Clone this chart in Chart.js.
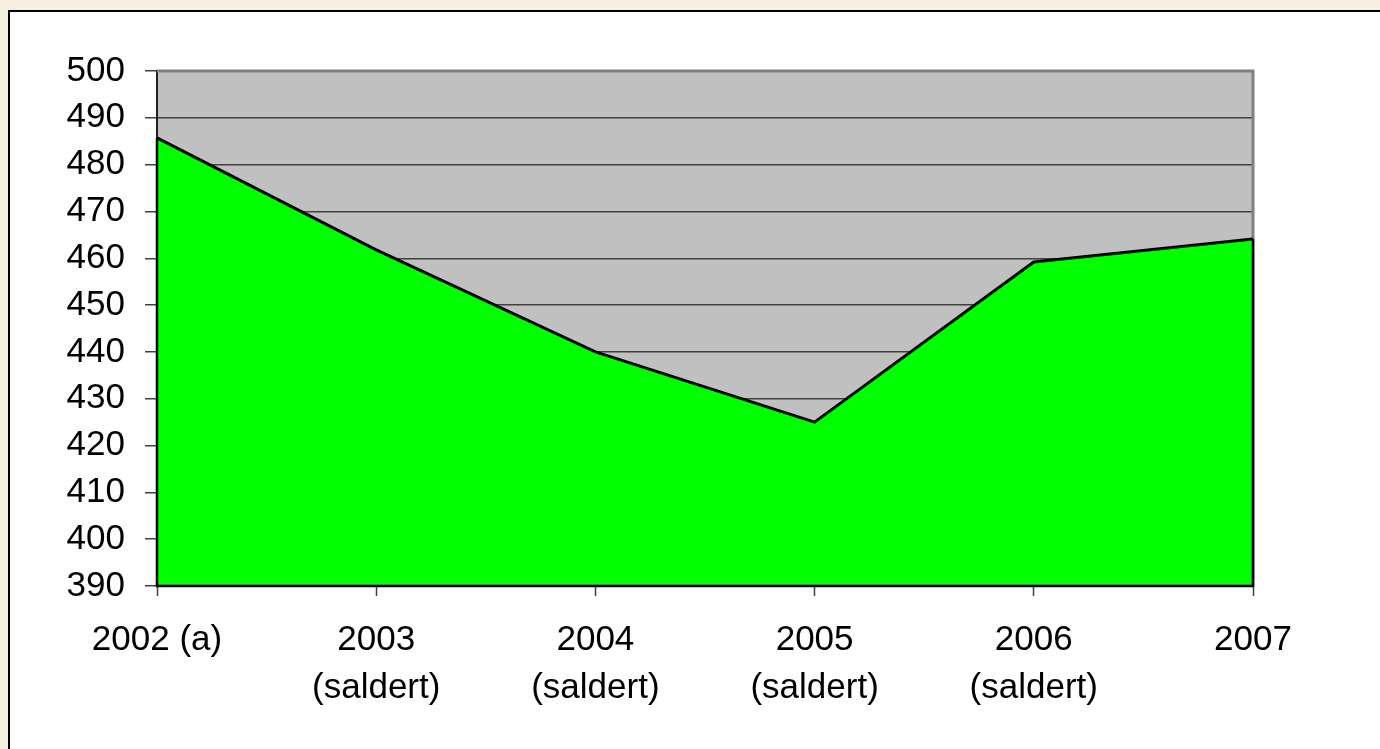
<!DOCTYPE html>
<html>
<head>
<meta charset="utf-8">
<script src="https://cdn.jsdelivr.net/npm/chart.js@4/dist/chart.umd.min.js"></script>
<style>
html,body{margin:0;padding:0;background:#F7F0E1;}
#wrap{position:absolute;left:0;top:0;width:1380px;height:749px;}
</style>
</head>
<body>
<div id="wrap"><canvas id="c" width="1380" height="749"></canvas></div>
<script>
const categories = [['2002 (a)'], ['2003', '(saldert)'], ['2004', '(saldert)'], ['2005', '(saldert)'], ['2006', '(saldert)'], ['2007']];
const values = [485.7, 461.8, 440.0, 425.0, 459.2, 464.1];
const yMin = 390, yMax = 500, yStep = 10;

const panelPlugin = {
  id: 'panel',
  beforeDraw(chart) {
    const ctx = chart.ctx;
    ctx.save();
    ctx.fillStyle = '#F7F0E1';
    ctx.fillRect(0, 0, chart.width, chart.height);
    ctx.fillStyle = '#FFFFFF';
    ctx.fillRect(8, 10, chart.width - 8, chart.height - 10);
    ctx.strokeStyle = '#000000';
    ctx.lineWidth = 2;
    ctx.beginPath();
    ctx.moveTo(9, chart.height);
    ctx.lineTo(9, 11);
    ctx.lineTo(chart.width, 11);
    ctx.stroke();
    const a = chart.chartArea;
    ctx.fillStyle = '#C0C0C0';
    ctx.fillRect(a.left, a.top, a.right - a.left, a.bottom - a.top);
    ctx.restore();
  },
  beforeDatasetsDraw(chart) {
    const ctx = chart.ctx, a = chart.chartArea;
    ctx.save();
    ctx.strokeStyle = '#808080';
    ctx.lineWidth = 3;
    ctx.beginPath();
    ctx.moveTo(a.left, a.top);
    ctx.lineTo(a.right, a.top);
    ctx.lineTo(a.right, a.bottom);
    ctx.stroke();
    ctx.restore();
  },
  afterDatasetsDraw(chart) {
    const ctx = chart.ctx, a = chart.chartArea;
    const ys = chart.scales.y;
    const yFirst = ys.getPixelForValue(values[0]);
    const yLast = ys.getPixelForValue(values[values.length - 1]);
    ctx.save();
    ctx.strokeStyle = '#000000';
    ctx.lineWidth = 2.5;
    ctx.beginPath();
    ctx.moveTo(a.left, yFirst);
    ctx.lineTo(a.left, a.bottom);
    ctx.lineTo(a.right, a.bottom);
    ctx.lineTo(a.right, yLast);
    ctx.stroke();
    ctx.restore();
  }
};

new Chart(document.getElementById('c'), {
  type: 'line',
  data: {
    labels: categories,
    datasets: [{
      data: values,
      borderColor: '#000000',
      borderWidth: 3,
      backgroundColor: '#00FF00',
      fill: 'start',
      pointRadius: 0,
      tension: 0
    }]
  },
  options: {
    responsive: false,
    animation: false,
    devicePixelRatio: 1,
    layout: { padding: { left: 0, top: 71, right: 127, bottom: 0 } },
    plugins: { legend: { display: false }, tooltip: { enabled: false } },
    scales: {
      x: {
        type: 'category',
        offset: false,
        afterFit(s) { s.height = 163; },
        grid: { drawOnChartArea: false, drawTicks: true, tickLength: 10, tickColor: '#404040', tickWidth: 1.5 },
        border: { display: true, color: '#000000', width: 2 },
        ticks: {
          color: '#000000',
          maxRotation: 0,
          autoSkip: false,
          padding: 21,
          font: { family: "'Liberation Sans', Arial, sans-serif", size: 35, lineHeight: 1.35 }
        }
      },
      y: {
        min: yMin,
        max: yMax,
        afterFit(s) { s.width = 157; },
        grid: {
          color: (c) => c.tick && c.tick.value === yMax ? 'rgba(0,0,0,0)' : '#404040',
          lineWidth: 1.5,
          drawTicks: true,
          tickLength: 12,
          tickColor: '#404040',
          tickWidth: 1.5
        },
        border: { display: true, color: '#202020', width: 2 },
        ticks: {
          stepSize: yStep,
          color: '#000000',
          padding: 20,
          font: { family: "'Liberation Sans', Arial, sans-serif", size: 35 }
        }
      }
    }
  },
  plugins: [panelPlugin]
});
</script>
</body>
</html>
